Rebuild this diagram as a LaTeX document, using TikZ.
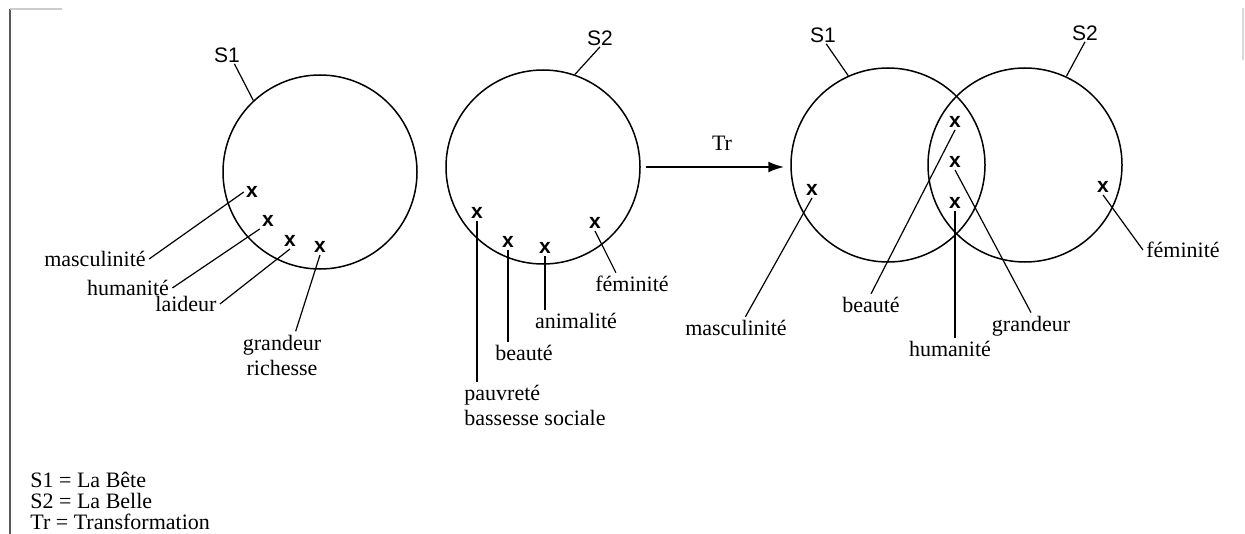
\documentclass[tikz,border=0pt]{standalone}
\usepackage{fontspec}
\setmainfont{Liberation Serif}
\newfontfamily\sansfont{Liberation Sans}
\usetikzlibrary{arrows.meta}

\begin{document}
\begin{tikzpicture}[x=0.5pt,y=-0.5pt,
  ensemble/.style={circle,draw,line width=0.75pt,inner sep=0pt,minimum size=97pt},
  nomset/.style={font=\sansfont\fontsize{10.5}{12}\selectfont,inner sep=0.5pt},
  croix/.style={font=\sansfont\bfseries\fontsize{10.5}{10}\selectfont,inner sep=1pt},
  mot/.style={font=\fontsize{11}{12.5}\selectfont,inner sep=1.5pt},
  trait/.style={line width=0.6pt},
  fleche/.style={line width=1.1pt,-{Latex[length=8pt,width=5.5pt]}}]
\useasboundingbox (0,0) rectangle (1245,534);

\draw[black!65,line width=1.1pt] (10,9) -- (10,534);
\draw[black!20,line width=0.6pt] (10,9) -- (62,9);
\draw[black!15,line width=0.6pt] (1243,8) -- (1243,60);

\node[ensemble] (bete) at (320,172) {};
\node[nomset] (s1a) at (227,55) {S1};
\draw[trait] (s1a.-50) -- (bete.133);

\node[croix] (m1) at (252,192) {x};
\node[croix] (m2) at (268,221) {x};
\node[croix] (m3) at (290,241) {x};
\node[croix] (m4) at (320,247) {x};

\node[mot] (lmasc) at (95,259) {masculinité};
\node[mot] (lhum) at (128,288) {humanité};
\node[mot] (llaid) at (186,304) {laideur};
\node[mot,align=center] (lgrand) at (282,355) {grandeur\\richesse};

\draw[trait] (m1.west) -- (lmasc.east);
\draw[trait] (m2.south west) -- (lhum.east);
\draw[trait] (m3.south) -- (llaid.east);
\draw[trait] (m4.south) -- (lgrand.60);

\node[ensemble] (belle) at (543,167) {};
\node[nomset] (s2a) at (600,38) {S2};
\draw[trait] (s2a.south) -- (belle.71);

\node[croix] (n1) at (477,213) {x};
\node[croix] (n2) at (508,242) {x};
\node[croix] (n3) at (545,248) {x};
\node[croix] (n4) at (595,223) {x};

\node[mot,align=left,anchor=north west] (lpauv) at (461,382) {pauvreté\\bassesse sociale};
\node[mot] (lbeau) at (524,353) {beauté};
\node[mot] (lanim) at (576,321) {animalité};
\node[mot] (lfem) at (632,284) {féminité};

\draw[trait] (n1.south) -- (n1.south |- lpauv.north);
\draw[trait] (n2.south) -- (n2.south |- lbeau.north);
\draw[trait] (n3.south) -- (n3.south |- lanim.north);
\draw[trait] (n4.south) -- (lfem.145);

\node[ensemble] (bete2) at (888,165) {};
\node[ensemble] (belle2) at (1025,165) {};
\node[nomset] (s1b) at (823,35) {S1};
\node[nomset] (s2b) at (1085,33) {S2};
\draw[trait] (s1b.-70) -- (bete2.114);
\draw[trait] (s2b.south) -- (belle2.65);

\draw[fleche,shorten <=2.5pt,shorten >=3pt] (belle.east) -- (belle.east -| bete2.west);
\node[mot] (tr) at (722,143) {Tr};

\node[croix] (p1) at (812,190) {x};
\node[croix] (p2) at (955,122) {x};
\node[croix] (p3) at (955,162) {x};
\node[croix] (p4) at (955,203) {x};
\node[croix] (p5) at (1103,187) {x};

\node[mot] (lmasc2) at (736,328) {masculinité};
\node[mot] (lbeau2) at (871,305) {beauté};
\node[mot] (lgrand2) at (1031,326) {grandeur};
\node[mot] (lhum2) at (950,349) {humanité};
\node[mot] (lfem2) at (1183,250) {féminité};

\draw[trait] (p1.south) -- (lmasc2.50);
\draw[trait] (p2.south) -- (lbeau2.north);
\draw[trait] (p3.south) -- (lgrand2.north);
\draw[trait] (p4.south) -- (p4.south |- lhum2.north);
\draw[trait] (p5.south) -- (lfem2.west);

\node[mot,anchor=base west] (leg1) at (27,487) {S1 = La Bête};
\node[mot,anchor=base west] (leg2) at (27,508) {S2 = La Belle};
\node[mot,anchor=base west] (leg3) at (27,529) {Tr = Transformation};
\end{tikzpicture}
\end{document}
